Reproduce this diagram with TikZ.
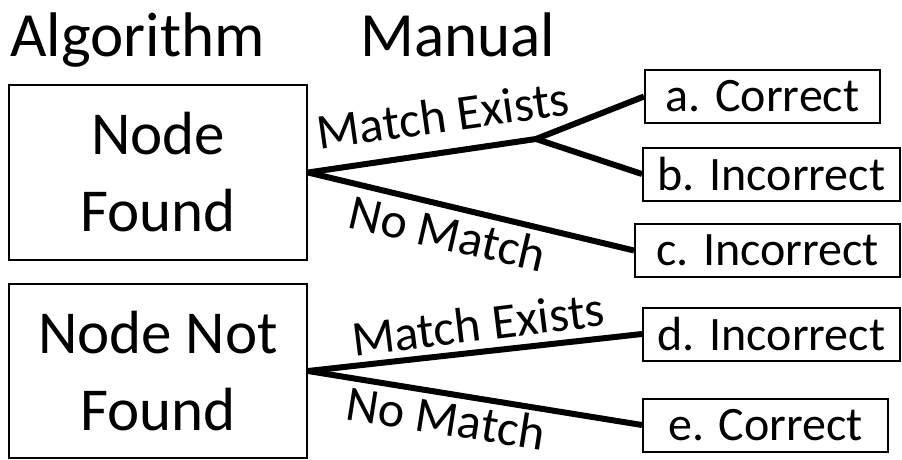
\documentclass[tikz,border=0pt]{standalone}
\usepackage{fontspec}
\setmainfont{Carlito}
\begin{document}
\begin{tikzpicture}[x=1pt,y=-1pt,
  bigbox/.style={draw,line width=2pt,inner sep=0pt,align=center,
    font=\fontsize{61}{77}\selectfont},
  outcome/.style={draw,line width=2pt,inner sep=0pt,minimum height=53pt,
    font=\fontsize{48}{56}\selectfont},
  branch/.style={line width=6pt},
  lbl/.style={inner sep=0pt,font=\fontsize{50}{56}\selectfont},
  title/.style={inner sep=0pt,anchor=base west,font=\fontsize{63}{70}\selectfont}]
\useasboundingbox (0,0) rectangle (902,460);

% column headings
\node[title] (halg) at (10,57) {Algorithm};
\node[title] (hman) at (360,57) {Manual};

% algorithm outcome boxes
\node[bigbox,minimum width=298pt,minimum height=175pt] (found) at (158,172.5) {Node\\Found};
\node[bigbox,minimum width=298pt,minimum height=174pt] (notfound) at (158,371) {Node Not\\Found};

% manual verdict boxes
\node[outcome,minimum width=235pt] (a) at (762.5,96.5) {a. Correct};
\node[outcome,minimum width=257pt] (b) at (771.5,174) {b. Incorrect};
\node[outcome,minimum width=265pt] (c) at (767.5,250.5) {c. Incorrect};
\node[outcome,minimum width=257pt] (d) at (771.5,334) {d. Incorrect};
\node[outcome,minimum width=245pt] (e) at (765.5,425) {e. Correct};

% branch point of the matching case
\coordinate (j1) at (536,139);

\draw[branch] (found.east) -- (j1) -- (a.west);
\draw[branch] (j1) -- (b.west);
\draw[branch] (found.east) -- (c.west);
\draw[branch] (notfound.east) -- (d.west);
\draw[branch] (notfound.east) -- (e.west);

% branch labels
\node[lbl,rotate=8] (m1) at (443,115) {Match Exists};
\node[lbl,rotate=-13] (n1) at (448,233) {No Match};
\node[lbl,rotate=7] (m2) at (478,324) {Match Exists};
\node[lbl,rotate=-9] (n2) at (446,418) {No Match};
\end{tikzpicture}
\end{document}
